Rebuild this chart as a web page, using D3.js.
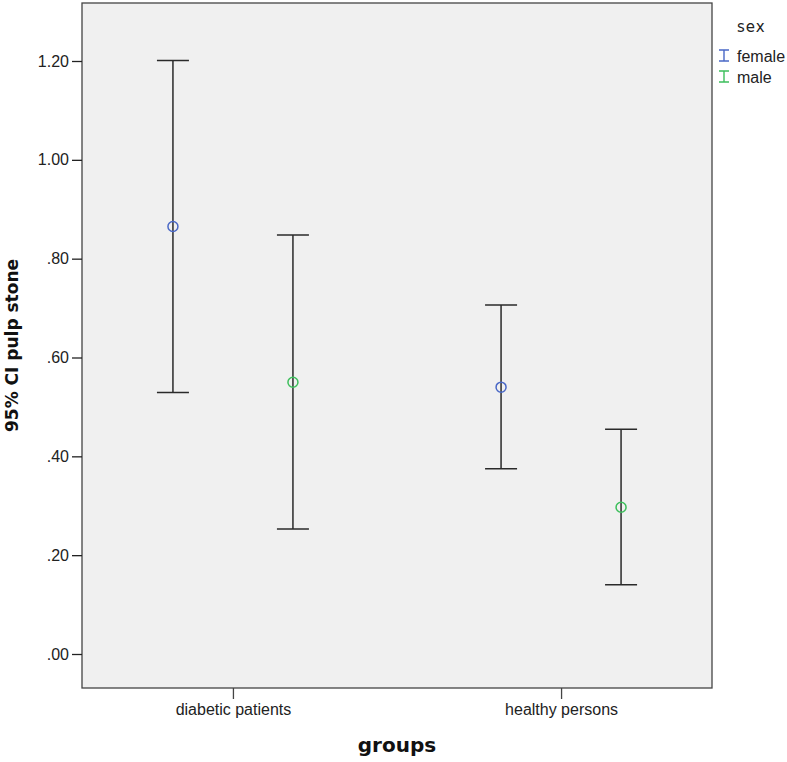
<!DOCTYPE html>
<html>
<head>
<meta charset="utf-8">
<script src="https://cdn.jsdelivr.net/npm/d3@7"></script>
<style>
  body { margin: 0; background: #fff; }
  text { font-family: Arial, "Liberation Sans", sans-serif; }
</style>
</head>
<body>
<div id="chart"></div>
<script>
// Data
const groups = ["diabetic patients", "healthy persons"];
const sexes = ["female", "male"];
const sexColors = ["#4a68c6", "#3dbf5c"];
// one row per group, one value per sex
const means = [[0.865, 0.550], [0.540, 0.297]];
const lower = [[0.529, 0.253], [0.375, 0.140]];
const upper = [[1.201, 0.848], [0.706, 0.455]];
const yTicks = [0, 0.2, 0.4, 0.6, 0.8, 1.0, 1.2];

const W = 787, H = 762;
const plot = { left: 82, right: 712, top: 3, bottom: 688 };

const svg = d3.select("#chart").append("svg")
  .attr("width", W).attr("height", H);

// Scales
const y = d3.scaleLinear().domain([0, 1.2]).range([654, 61]);
const x = d3.scalePoint().domain(groups).range([plot.left, plot.right]).padding(0.46);
const dx = d3.scalePoint().domain(sexes).range([-60, 60]);
const color = d3.scaleOrdinal().domain(sexes).range(sexColors);

// Plot background
svg.append("rect")
  .attr("x", plot.left).attr("y", plot.top)
  .attr("width", plot.right - plot.left).attr("height", plot.bottom - plot.top)
  .attr("fill", "#f0f0f0").attr("stroke", "#444").attr("stroke-width", 1.3);

// Y axis
const fmt = (d) => d3.format(".2f")(d).replace(/^0/, "");
const yAxis = svg.append("g")
  .attr("transform", `translate(${plot.left},0)`)
  .call(d3.axisLeft(y).tickValues(yTicks).tickFormat(fmt).tickSize(10).tickPadding(3));
yAxis.select(".domain").remove();
yAxis.selectAll("line").attr("stroke", "#222").attr("stroke-width", 1.3);
yAxis.selectAll("text").attr("fill", "#222").style("font-size", "16px");

// X axis
const xAxis = svg.append("g")
  .attr("transform", `translate(0,${plot.bottom})`)
  .call(d3.axisBottom(x).tickSize(11).tickPadding(5));
xAxis.select(".domain").remove();
xAxis.selectAll("line").attr("stroke", "#444").attr("stroke-width", 1.3);
xAxis.selectAll("text").attr("fill", "#222").style("font-size", "16px");

// Axis titles
svg.append("text")
  .attr("transform", `translate(18,${(plot.top + plot.bottom) / 2}) rotate(-90)`)
  .attr("text-anchor", "middle")
  .style("font-family", "'DejaVu Sans', sans-serif")
  .style("font-size", "17px").style("font-weight", "bold").attr("fill", "#111")
  .text("95% CI pulp stone");

svg.append("text")
  .attr("x", (plot.left + plot.right) / 2).attr("y", 752)
  .attr("text-anchor", "middle")
  .style("font-family", "'DejaVu Sans', sans-serif")
  .style("font-size", "20px").style("font-weight", "bold").attr("fill", "#111")
  .text("groups");

// Error bars
const rows = [];
groups.forEach((g, i) => {
  sexes.forEach((s, j) => {
    rows.push({ group: g, sex: s, mean: means[i][j], lo: lower[i][j], hi: upper[i][j] });
  });
});

const capW = 16;
const bars = svg.append("g").selectAll("g").data(rows).enter().append("g")
  .attr("transform", (d) => `translate(${x(d.group) + dx(d.sex)},0)`);

bars.append("line")
  .attr("y1", (d) => y(d.lo)).attr("y2", (d) => y(d.hi))
  .attr("stroke", "#2a2a2a").attr("stroke-width", 1.5);
bars.append("line")
  .attr("x1", -capW).attr("x2", capW)
  .attr("y1", (d) => y(d.hi)).attr("y2", (d) => y(d.hi))
  .attr("stroke", "#2a2a2a").attr("stroke-width", 1.5);
bars.append("line")
  .attr("x1", -capW).attr("x2", capW)
  .attr("y1", (d) => y(d.lo)).attr("y2", (d) => y(d.lo))
  .attr("stroke", "#2a2a2a").attr("stroke-width", 1.5);
bars.append("circle")
  .attr("cy", (d) => y(d.mean)).attr("r", 5)
  .attr("fill", "none").attr("stroke", (d) => color(d.sex)).attr("stroke-width", 1.5);

// Legend
const legend = svg.append("g").attr("transform", "translate(719,0)");
legend.append("text")
  .attr("x", 18).attr("y", 32)
  .style("font-family", "'DejaVu Sans', sans-serif")
  .style("font-size", "15px").attr("fill", "#222").attr("letter-spacing", "1px")
  .text("sex");
const item = legend.selectAll("g.item").data(sexes).enter().append("g")
  .attr("class", "item")
  .attr("transform", (d, i) => `translate(0,${62 + i * 21})`);
item.append("path")
  .attr("d", "M0,-12H10M5,-12V-1M0,-1H10")
  .attr("fill", "none").attr("stroke", (d) => color(d)).attr("stroke-width", 1.4);
item.append("text")
  .attr("x", 18).attr("y", 0)
  .style("font-size", "16px").attr("fill", "#222")
  .text((d) => d);
</script>
</body>
</html>
